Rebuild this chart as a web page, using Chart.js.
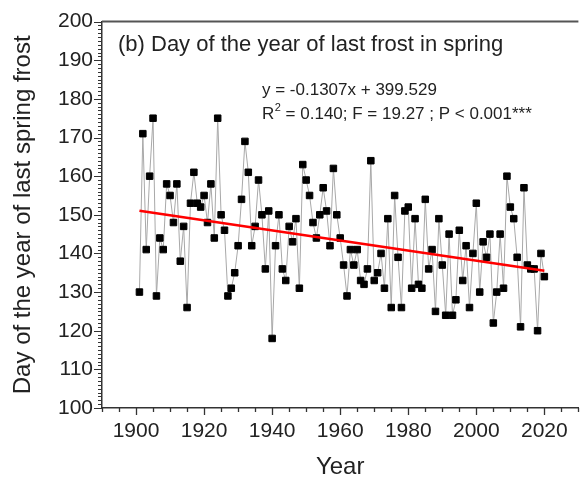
<!DOCTYPE html>
<html>
<head>
<meta charset="utf-8">
<script src="https://cdn.jsdelivr.net/npm/chart.js@4.4.0/dist/chart.umd.min.js"></script>
<style>
  html, body { margin: 0; padding: 0; background: #fff; }
  #wrap { width: 584px; height: 479px; }
</style>
</head>
<body>
<div id="wrap"><canvas id="frostChart" width="584" height="479"></canvas></div>
<script>
// last spring frost, day of year, 1901-2020
const firstYear = 1901;
const frostDay = [
  130, 171, 141, 160, 175, 129, 144, 141, 158, 155,
  148, 158, 138, 147, 126, 153, 161, 153, 152, 155,
  148, 158, 144, 175, 150, 146, 129, 131, 135, 142,
  154, 169, 161, 142, 147, 159, 150, 136, 151, 118,
  142, 150, 136, 133, 147, 143, 149, 131, 163, 159,
  155, 148, 144, 150, 157, 151, 142, 162, 150, 144,
  137, 129, 141, 137, 141, 133, 132, 136, 164, 133,
  135, 140, 131, 149, 126, 155, 139, 126, 151, 152,
  131, 149, 132, 131, 154, 136, 141, 125, 149, 137,
  124, 145, 124, 128, 146, 133, 142, 126, 140, 153,
  130, 143, 139, 145, 122, 130, 145, 131, 160, 152,
  149, 139, 121, 157, 137, 136, 136, 120, 140, 134
];
const years = frostDay.map((d, i) => firstYear + i);

// axis tick labels
const yearTicks = [1900, 1920, 1940, 1960, 1980, 2000, 2020];
const dayTicks = [100, 110, 120, 130, 140, 150, 160, 170, 180, 190, 200];

// fit shown on the chart
const slope = -0.1307;
const intercept = 399.529;
const fitYears = [1901, 2020];

const eqText = 'y = -0.1307x + 399.529';
const statText = ' = 0.140; F = 19.27 ; P < 0.001***';
const panelTitle = '(b) Day of the year of last frost in spring';

const FONT = '"Liberation Sans", Arial, sans-serif';

// ticks + top frame + annotations
const decorPlugin = {
    id: 'decor',
    afterDraw(chart) {
        const ctx = chart.ctx;
        const area = chart.chartArea;
        const xs = chart.scales.x;
        const ys = chart.scales.y;
        ctx.save();

        // top frame
        ctx.strokeStyle = '#555';
        ctx.lineWidth = 2;
        ctx.beginPath();
        ctx.moveTo(area.left, area.top);
        ctx.lineTo(area.right, area.top);
        ctx.stroke();

        // y ticks (major 10, minor 1)
        ctx.strokeStyle = '#333';
        ctx.lineWidth = 1;
        for (let v = ys.min; v <= ys.max; v++) {
            const len = v % 10 === 0 ? 8 : 4;
            const py = Math.round(ys.getPixelForValue(v)) + 0.5;
            ctx.beginPath();
            ctx.moveTo(area.left - len, py);
            ctx.lineTo(area.left, py);
            ctx.stroke();
        }
        // x ticks (major 20, minor 5)
        ctx.lineWidth = 1.3;
        for (let v = xs.min; v <= xs.max; v += 5) {
            const len = v % 20 === 0 ? 7 : 4;
            const px = Math.round(xs.getPixelForValue(v)) + 0.5;
            ctx.beginPath();
            ctx.moveTo(px, area.bottom);
            ctx.lineTo(px, area.bottom + len);
            ctx.stroke();
        }

        // texts
        ctx.fillStyle = '#222';
        ctx.textBaseline = 'middle';
        ctx.textAlign = 'left';
        ctx.font = '22px ' + FONT;
        ctx.fillText(panelTitle, area.left + 16, 45);

        ctx.font = '17px ' + FONT;
        const ex = area.left + 160;
        ctx.fillText(eqText, ex, 90);
        ctx.fillText('R', ex, 114);
        const rw = ctx.measureText('R').width;
        ctx.font = '11px ' + FONT;
        ctx.fillText('2', ex + rw + 0.5, 108);
        const sw = ctx.measureText('2').width;
        ctx.font = '17px ' + FONT;
        ctx.fillText(statText, ex + rw + sw + 0.5, 114);

        ctx.restore();
    }
};

const chart = new Chart(document.getElementById('frostChart'), {
    type: 'line',
    data: {
        datasets: [{
            label: 'fit',
            data: fitYears.map(x => ({ x: x, y: slope * x + intercept })),
            borderColor: '#ff0000',
            borderWidth: 2.5,
            pointRadius: 0,
            order: 0
        }, {
            label: 'frost',
            data: years.map((x, i) => ({ x: x, y: frostDay[i] })),
            borderColor: '#a8a8a8',
            borderWidth: 1,
            tension: 0,
            pointStyle: 'rect',
            pointRadius: 4.6,
            pointBackgroundColor: '#000',
            pointBorderColor: '#000',
            pointBorderWidth: 1,
            order: 1
        }]
    },
    options: {
        responsive: false,
        animation: false,
        devicePixelRatio: 1,
        layout: { padding: { top: 20, right: 0, left: 0, bottom: 0 } },
        plugins: {
            legend: { display: false },
            tooltip: { enabled: false }
        },
        scales: {
            x: {
                type: 'linear',
                min: 1890,
                max: 2030,
                afterBuildTicks(scale) { scale.ticks = yearTicks.map(v => ({ value: v })); },
                afterFit(scale) { scale.height = 71; },
                grid: { display: false, drawTicks: false },
                border: { display: true, color: '#333', width: 1.5 },
                ticks: {
                    padding: 11,
                    color: '#222',
                    font: { family: FONT, size: 21 },
                    callback: v => String(v)
                },
                title: {
                    display: true,
                    text: 'Year',
                    color: '#222',
                    font: { family: FONT, size: 24, lineHeight: 1 },
                    padding: { top: 0, bottom: 0 }
                }
            },
            y: {
                min: 100,
                max: 200,
                afterBuildTicks(scale) { scale.ticks = dayTicks.map(v => ({ value: v })); },
                afterFit(scale) { scale.width = 102; },
                grid: { display: false, drawTicks: false },
                border: { display: true, color: '#333', width: 1.5 },
                ticks: {
                    padding: 9,
                    color: '#222',
                    font: { family: FONT, size: 21 }
                },
                title: {
                    display: true,
                    text: 'Day of the year of last spring frost',
                    color: '#222',
                    font: { family: FONT, size: 24, lineHeight: 1 },
                    padding: { top: 11, bottom: 0 }
                }
            }
        }
    },
    plugins: [decorPlugin]
});
</script>
</body>
</html>
